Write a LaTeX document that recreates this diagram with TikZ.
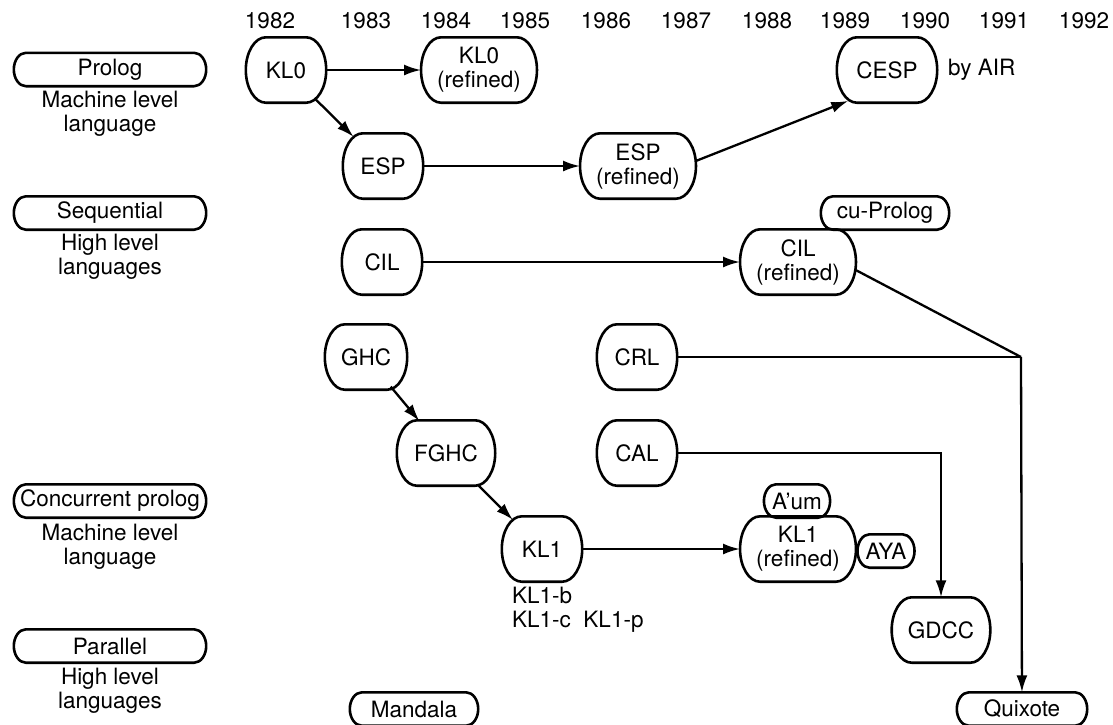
\documentclass[tikz,border=0pt]{standalone}
\usepackage{fontspec}
\setmainfont{TeX Gyre Heros}
\usetikzlibrary{arrows.meta}
% outline with quarter-ellipse ends: node, corner width, control x, control y
% (control lengths are plain numbers in picture units)
\newcommand\capsule[4]{%
  \draw[outline] ([xshift=#2]#1.north west) -- ([xshift=-#2]#1.north east)
    .. controls +(#3,0) and +(0,-#4) .. (#1.east)
    .. controls +(0,#4) and +(#3,0) .. ([xshift=-#2]#1.south east)
    -- ([xshift=#2]#1.south west)
    .. controls +(-#3,0) and +(0,#4) .. (#1.west)
    .. controls +(0,-#4) and +(-#3,0) .. cycle;
}
\begin{document}
\begin{tikzpicture}[x=1pt,y=-1pt,
  every node/.style={font=\fontsize{22.5}{24}\selectfont, inner sep=0pt},
  lang/.style={minimum width=80pt, minimum height=65pt, inner xsep=16pt, align=center},
  tag/.style={minimum height=33pt, inner xsep=8pt},
  group/.style={tag, minimum width=192pt},
  note/.style={align=center},
  outline/.style={line width=2.6pt, line join=round},
  arr/.style={line width=2.3pt, -{Latex[length=17pt,width=11pt]}},
  link/.style={line width=2.3pt},
]
\useasboundingbox (0,0) rectangle (1113,724);

% time axis
\foreach \xx/\yr in {270/1982,366/1983,446/1984,525/1985,606/1986,686/1987,
                     767/1988,845/1989,925/1990,1004/1991,1084/1992}
  \node (year\yr) at (\xx,21) {\yr};

% language families on the left
\node[group] (gProlog) at (110,69.5) {Prolog};
\node[note]  (dProlog) at (110,114) {Machine level\\language};
\node[group] (gSeq) at (110,213) {Sequential};
\node[note]  (dSeq) at (110,257) {High level\\languages};
\node[group, inner xsep=2pt] (gConc) at (110,501) {Concurrent prolog};
\node[note]  (dConc) at (110,547) {Machine level\\language};
\node[group] (gPar) at (110,646) {Parallel};
\node[note]  (dPar) at (110,690.5) {High level\\languages};

% languages
\node[lang] (KL0)  at (286,70)  {KL0};
\node[lang] (KL0r) at (479,70)  {KL0\\(refined)};
\node[lang] (ESP)  at (383,166) {ESP};
\node[lang] (ESPr) at (638,166) {ESP\\(refined)};
\node[lang, minimum width=100pt] (CESP) at (887,70)  {CESP};
\node[anchor=west] (byAIR) at (948,70) {by AIR};
\node[tag, minimum width=128pt] (cuProlog) at (885,213) {cu-Prolog};
\node[lang] (CIL)  at (382,262) {CIL};
\node[lang] (CILr) at (798,262) {CIL\\(refined)};
\node[lang] (GHC)  at (366,357) {GHC};
\node[lang] (CRL)  at (637,357) {CRL};
\node[lang, minimum width=98pt] (FGHC) at (446,453) {FGHC};
\node[lang] (CAL)  at (637,453) {CAL};
\node[tag]  (Aum)  at (797,501) {A’um};
\node[lang] (KL1)  at (542,549) {KL1};
\node[lang] (KL1r) at (798,549) {KL1\\(refined)};
\node[tag]  (AYA)  at (886,551) {AYA};
\node[anchor=north west, align=left] (KL1v) at (512,587) {KL1-b\\KL1-c\ \ KL1-p};
\node[lang, minimum width=97pt] (GDCC) at (941,630) {GDCC};
\node[tag, minimum width=128pt] (Mandala) at (414,709) {Mandala};
\node[tag, minimum width=130pt] (Quixote) at (1022,709) {Quixote};
\coordinate (join) at (1021,357);

% outlines
\foreach \n in {KL0,KL0r,ESP,ESPr,CESP,CIL,CILr,GHC,CRL,FGHC,CAL,KL1,KL1r,GDCC}
  \capsule{\n}{20pt}{11}{18};
\foreach \n in {gProlog,gSeq,gConc,gPar,cuProlog,Aum,AYA,Mandala,Quixote}
  \capsule{\n}{12pt}{6.6}{9.1};

% derivations
\draw[arr] (KL0) -- (KL0r);
\draw[arr, shorten <=-5pt, shorten >=-5pt] (KL0) -- (ESP);
\draw[arr] (ESP) -- (ESPr);
\draw[arr, shorten >=-5pt] (ESPr.5) -- (CESP.-143);
\draw[arr] (CIL) -- (CILr);
\draw[link] (CILr.-8) -- (join);
\draw[link] (CRL) -- (join);
\draw[arr] (join) -- (Quixote);
\draw[arr] (CAL) -| (GDCC);
\draw[arr, shorten <=-4pt, shorten >=-1pt] (GHC) -- (FGHC);
\draw[arr, shorten <=-2pt, shorten >=-5pt] (FGHC) -- (KL1);
\draw[arr] (KL1) -- (KL1r);
\end{tikzpicture}
\end{document}
